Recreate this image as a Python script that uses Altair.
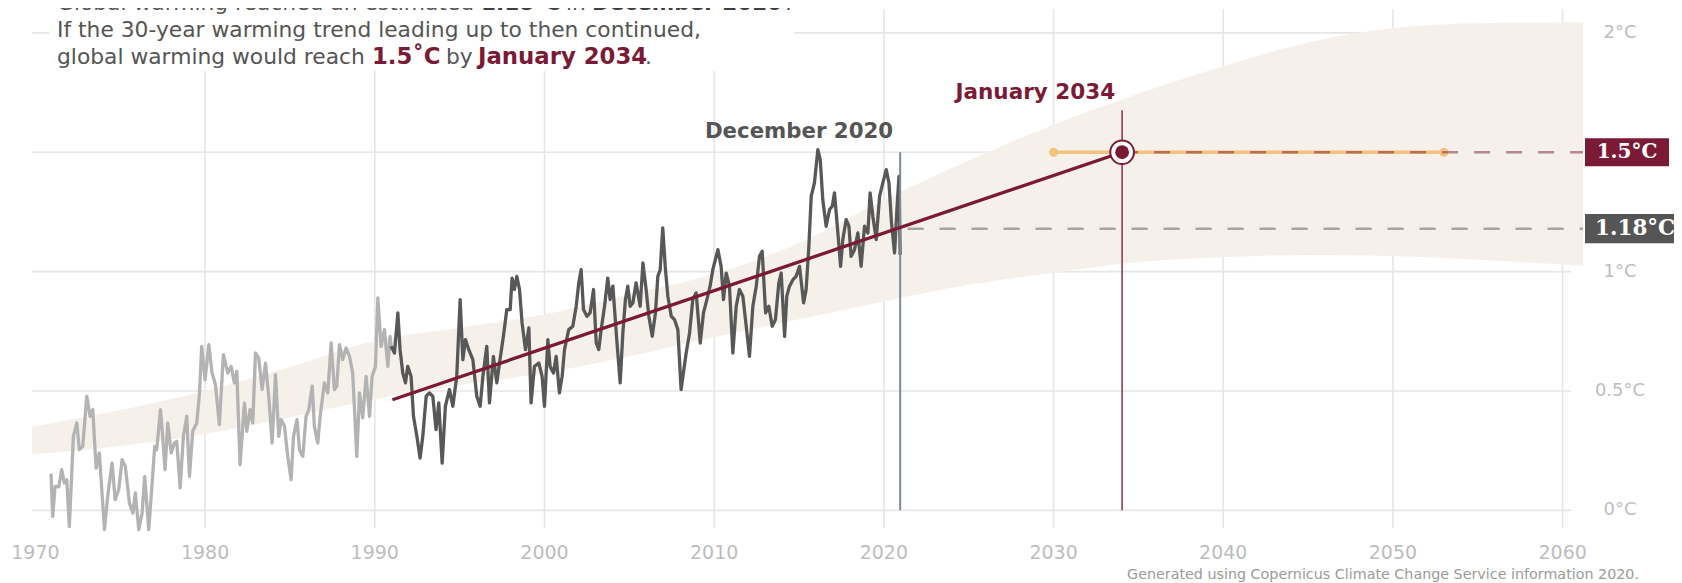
import altair as alt
import pandas as pd

# ---------------- data ----------------
light_year = [1970.92, 1971.02, 1971.16, 1971.38, 1971.55, 1971.71, 1971.85, 1972.00, 1972.24, 1972.44,
              1972.59, 1972.79, 1973.03, 1973.22, 1973.38, 1973.58, 1973.77, 1974.07, 1974.26, 1974.52,
              1974.70, 1974.91, 1975.11, 1975.30, 1975.54, 1975.74, 1975.89, 1976.09, 1976.29, 1976.44,
              1976.68, 1976.88, 1977.03, 1977.15, 1977.37, 1977.50, 1977.64, 1977.80, 1978.00, 1978.19,
              1978.33, 1978.53, 1978.72, 1978.92, 1979.08, 1979.27, 1979.51, 1979.67, 1979.80, 1980.00,
              1980.22, 1980.41, 1980.61, 1980.84, 1981.08, 1981.34, 1981.53, 1981.73, 1981.87, 1982.06,
              1982.32, 1982.46, 1982.65, 1982.81, 1982.97, 1983.16, 1983.36, 1983.56, 1983.75, 1983.95,
              1984.15, 1984.34, 1984.48, 1984.68, 1984.87, 1985.07, 1985.21, 1985.42, 1985.56, 1985.76,
              1985.95, 1986.11, 1986.31, 1986.44, 1986.64, 1986.78, 1987.03, 1987.23, 1987.43, 1987.62,
              1987.76, 1987.92, 1988.11, 1988.31, 1988.51, 1988.70, 1988.94, 1989.10, 1989.29, 1989.49,
              1989.69, 1989.84, 1990.04, 1990.18, 1990.37, 1990.57, 1990.77, 1990.90, 1990.96]
light_temp = [0.154, -0.025, 0.10, 0.098, 0.17, 0.115, 0.128, -0.067, 0.31, 0.366,
              0.254, 0.268, 0.478, 0.394, 0.422, 0.177, 0.24, -0.081, 0.059, 0.198,
              0.045, 0.087, 0.212, 0.184, 0.031, -0.011, 0.073, -0.081, -0.011, 0.142,
              -0.081, 0.115, 0.268, 0.254, 0.422, 0.31, 0.17, 0.366, 0.24, 0.282,
              0.289, 0.094, 0.31, 0.394, 0.142, 0.331, 0.366, 0.492, 0.687, 0.547,
              0.694, 0.575, 0.527, 0.359, 0.652, 0.575, 0.603, 0.534, 0.582, 0.191,
              0.45, 0.331, 0.422, 0.366, 0.659, 0.638, 0.506, 0.617, 0.478, 0.282,
              0.568, 0.31, 0.38, 0.352, 0.226, 0.128, 0.31, 0.38, 0.254, 0.226,
              0.394, 0.422, 0.52, 0.352, 0.282, 0.394, 0.534, 0.492, 0.701, 0.506,
              0.52, 0.694, 0.631, 0.68, 0.645, 0.575, 0.226, 0.492, 0.387, 0.561,
              0.394, 0.561, 0.603, 0.89, 0.687, 0.757, 0.603, 0.729, 0.687]

dark_year = [1990.96, 1991.16, 1991.36, 1991.49, 1991.65, 1991.81, 1991.94, 1992.14, 1992.28, 1992.48,
             1992.67, 1992.83, 1993.03, 1993.22, 1993.42, 1993.61, 1993.77, 1993.97, 1994.16, 1994.40,
             1994.60, 1994.83, 1995.03, 1995.19, 1995.34, 1995.54, 1995.78, 1996.01, 1996.21, 1996.37,
             1996.60, 1996.76, 1996.99, 1997.19, 1997.35, 1997.58, 1997.78, 1997.98, 1998.09, 1998.23,
             1998.37, 1998.53, 1998.68, 1998.88, 1999.08, 1999.21, 1999.41, 1999.67, 1999.86, 2000.00,
             2000.20, 2000.33, 2000.53, 2000.69, 2000.88, 2001.04, 2001.18, 2001.43, 2001.67, 2001.87,
             2002.02, 2002.16, 2002.30, 2002.50, 2002.69, 2002.89, 2003.05, 2003.20, 2003.34, 2003.54,
             2003.73, 2003.87, 2004.03, 2004.26, 2004.46, 2004.62, 2004.77, 2004.91, 2005.05, 2005.21,
             2005.40, 2005.64, 2005.80, 2005.99, 2006.15, 2006.35, 2006.54, 2006.68, 2006.82, 2006.97,
             2007.13, 2007.27, 2007.47, 2007.66, 2007.86, 2008.05, 2008.35, 2008.55, 2008.74, 2008.94,
             2009.18, 2009.37, 2009.57, 2009.76, 2009.92, 2010.22, 2010.41, 2010.55, 2010.71, 2010.90,
             2011.10, 2011.30, 2011.49, 2011.69, 2011.89, 2012.08, 2012.28, 2012.48, 2012.67, 2012.83,
             2013.03, 2013.22, 2013.42, 2013.61, 2013.81, 2013.95, 2014.15, 2014.28, 2014.44, 2014.64,
             2014.83, 2015.03, 2015.27, 2015.42, 2015.58, 2015.72, 2015.91, 2016.11, 2016.25, 2016.40,
             2016.60, 2016.80, 2016.96, 2017.09, 2017.29, 2017.45, 2017.58, 2017.78, 2017.94, 2018.07,
             2018.27, 2018.47, 2018.66, 2018.86, 2019.06, 2019.19, 2019.35, 2019.55, 2019.75, 2019.94,
             2020.14, 2020.30, 2020.45, 2020.63, 2020.77, 2020.89, 2020.96]
dark_temp = [0.687, 0.659, 0.827, 0.673, 0.575, 0.534, 0.603, 0.561, 0.394, 0.31,
             0.219, 0.31, 0.478, 0.492, 0.478, 0.338, 0.45, 0.198, 0.436, 0.506,
             0.436, 0.561, 0.883, 0.631, 0.715, 0.673, 0.631, 0.478, 0.436, 0.561,
             0.687, 0.45, 0.645, 0.534, 0.617, 0.729, 0.841, 0.841, 0.973, 0.925,
             0.98, 0.925, 0.785, 0.673, 0.764, 0.45, 0.603, 0.617, 0.561, 0.436,
             0.715, 0.603, 0.575, 0.645, 0.492, 0.561, 0.673, 0.757, 0.771, 0.855,
             0.953, 1.008, 0.841, 0.813, 0.827, 0.925, 0.701, 0.673, 0.757, 0.855,
             0.973, 0.883, 0.939, 0.715, 0.534, 0.743, 0.883, 0.939, 0.855, 0.869,
             0.953, 0.855, 1.036, 0.925, 0.813, 0.729, 0.827, 0.98, 1.008, 1.183,
             1.008, 0.897, 0.813, 0.799, 0.757, 0.506, 0.659, 0.743, 0.883, 0.911,
             0.701, 0.827, 0.883, 0.939, 1.008, 1.092, 1.022, 0.883, 0.994, 0.939,
             0.659, 0.855, 0.925, 0.897, 0.771, 0.645, 0.855, 0.939, 1.064, 1.085,
             0.827, 0.855, 0.771, 0.799, 0.953, 0.994, 0.729, 0.897, 0.939, 0.966,
             0.98, 1.022, 0.869, 0.925, 1.106, 1.316, 1.372, 1.511, 1.469, 1.302,
             1.19, 1.26, 1.274, 1.33, 1.162, 1.022, 1.134, 1.218, 1.19, 1.064,
             1.092, 1.162, 1.022, 1.19, 1.162, 1.33, 1.232, 1.134, 1.316, 1.372,
             1.427, 1.372, 1.204, 1.078, 1.26, 1.399, 1.07]

band_year = [1969.8, 1975, 1980, 1985, 1990, 1995, 2000, 2005, 2010, 2015,
             2020, 2025, 2030, 2035, 2040, 2045, 2050, 2055, 2061.2]
band_low = [0.235, 0.27, 0.32, 0.39, 0.465, 0.525, 0.575, 0.645, 0.725, 0.80,
            0.875, 0.945, 0.995, 1.04, 1.06, 1.07, 1.065, 1.05, 1.025]
band_high = [0.35, 0.42, 0.50, 0.60, 0.71, 0.765, 0.82, 0.905, 0.99, 1.12,
             1.30, 1.465, 1.615, 1.745, 1.86, 1.96, 2.02, 2.04, 2.045]

trend_year = [1991.04, 2034.04]
trend_temp = [0.463, 1.5]
range_year = [2030.0, 2053.0]
target_temp = 1.5
current_temp = 1.18
current_year = 2020.96
cross_year = 2034.04

x_ticks = [1970, 1980, 1990, 2000, 2010, 2020, 2030, 2040, 2050, 2060]
grid_x = [1980, 1990, 2000, 2010, 2020, 2030, 2040, 2050, 2060]
grid_y = [0, 0.5, 1, 1.5, 2]
y_ticks = [0, 0.5, 1, 2]
y_tick_labels = ["0°C", "0.5°C", "1°C", "2°C"]

# ---------------- styling ----------------
RED = "#7b1a35"
GRAY_TXT = "#555555"
FONT = "DejaVu Sans"
X_DOM = [1969.8, 2061.2]
Y_DOM = [-0.074, 2.1]
xs = alt.Scale(domain=X_DOM, nice=False, zero=False)
ys = alt.Scale(domain=Y_DOM, nice=False, zero=False)


def X(f):
    return alt.X(f, type="quantitative", scale=xs, axis=None)


def Y(f):
    return alt.Y(f, type="quantitative", scale=ys, axis=None)


def X2(f):
    return alt.X2(f)


def Y2(f):
    return alt.Y2(f)


one = pd.DataFrame({"k": [0]})


def label(text, px, py, size, color, weight="normal", align="left",
          baseline="alphabetic", font=FONT):
    return alt.Chart(one).mark_text(
        text=text, fontSize=size, color=color, fontWeight=weight, align=align,
        baseline=baseline, font=font
    ).encode(x=alt.value(px), y=alt.value(py))


layers = []

# grid
vgrid = pd.DataFrame({"x": grid_x, "top": [Y_DOM[1]] * len(grid_x), "bot": [Y_DOM[0]] * len(grid_x)})
layers.append(alt.Chart(vgrid).mark_rule(color="#e6e6e6", strokeWidth=1.6).encode(
    x=X("x"), y=Y("top"), y2=Y2("bot")))
hgrid = pd.DataFrame({"y": grid_y, "x0": [X_DOM[0]] * len(grid_y), "x1": [2060.5] * len(grid_y)})
layers.append(alt.Chart(hgrid).mark_rule(color="#e6e6e6", strokeWidth=1.6).encode(
    y=Y("y"), x=X("x0"), x2=X2("x1")))

# white box behind the intro text
box = pd.DataFrame({"x0": [1970.8], "x1": [2014.7], "y0": [1.84], "y1": [2.3]})
layers.append(alt.Chart(box).mark_rect(color="white").encode(
    x=X("x0"), x2=X2("x1"), y=Y("y0"), y2=Y2("y1")))

# band
band = pd.DataFrame({"year": band_year, "low": band_low, "high": band_high})
layers.append(alt.Chart(band).mark_area(color="#f6f0ea", interpolate="monotone").encode(
    x=X("year"), y=Y("low"), y2=Y2("high")))

# series
light = pd.DataFrame({"year": light_year, "t": light_temp})
dark = pd.DataFrame({"year": dark_year, "t": dark_temp})
layers.append(alt.Chart(light).mark_line(color="#b3b3b3", strokeWidth=3.3, strokeJoin="round").encode(
    x=X("year"), y=Y("t")))
layers.append(alt.Chart(dark).mark_line(color="#585858", strokeWidth=3.3, strokeJoin="round").encode(
    x=X("year"), y=Y("t")))

# December 2020 vertical line
dec = pd.DataFrame({"x": [current_year], "y0": [0.0], "y1": [target_temp]})
layers.append(alt.Chart(dec).mark_rule(color="#7e8898", strokeWidth=2).encode(
    x=X("x"), y=Y("y0"), y2=Y2("y1")))

# 1.18 dashed line
d118 = pd.DataFrame({"x0": [2021.4], "x1": [X_DOM[1]], "y": [current_temp]})
layers.append(alt.Chart(d118).mark_rule(color="#555555", strokeOpacity=0.5, strokeWidth=2.5,
                                        strokeDash=[16, 16]).encode(
    x=X("x0"), x2=X2("x1"), y=Y("y")))

# trend line
trend = pd.DataFrame({"year": trend_year, "t": trend_temp})
layers.append(alt.Chart(trend).mark_line(color=RED, strokeWidth=3.3).encode(
    x=X("year"), y=Y("t")))

# January 2034 vertical line
jan = pd.DataFrame({"x": [cross_year], "y0": [0.0], "y1": [1.676]})
layers.append(alt.Chart(jan).mark_rule(color="#8a3050", strokeWidth=1.5).encode(
    x=X("x"), y=Y("y0"), y2=Y2("y1")))

# orange range
rng = pd.DataFrame({"x0": [range_year[0]], "x1": [range_year[1]], "y": [target_temp]})
layers.append(alt.Chart(rng).mark_rule(color="#f2c27f", strokeWidth=3.5).encode(
    x=X("x0"), x2=X2("x1"), y=Y("y")))
rng_pts = pd.DataFrame({"x": range_year, "y": [target_temp] * 2})
layers.append(alt.Chart(rng_pts).mark_circle(color="#f2c27f", opacity=1, size=81).encode(
    x=X("x"), y=Y("y")))

# 1.5 dashed line
d15 = pd.DataFrame({"x0": [cross_year], "x1": [X_DOM[1]], "y": [target_temp]})
layers.append(alt.Chart(d15).mark_rule(color=RED, strokeOpacity=0.5, strokeWidth=2.5,
                                       strokeDash=[16, 16]).encode(
    x=X("x0"), x2=X2("x1"), y=Y("y")))

# crossing marker
mk = pd.DataFrame({"x": [cross_year], "y": [target_temp]})
layers.append(alt.Chart(mk).mark_point(shape="circle", filled=True, fill="white", stroke=RED,
                                       strokeWidth=2, size=560, opacity=1).encode(
    x=X("x"), y=Y("y")))
layers.append(alt.Chart(mk).mark_point(shape="circle", filled=True, color=RED, size=190,
                                       opacity=1).encode(x=X("x"), y=Y("y")))

# annotations
ann = pd.DataFrame({"x": [current_year], "y": [1.585]})
layers.append(alt.Chart(ann).mark_text(text="December 2020", align="right", baseline="middle",
                                       dx=-7, fontSize=21.3, fontWeight="bold", color=GRAY_TXT,
                                       font=FONT).encode(x=X("x"), y=Y("y")))
ann2 = pd.DataFrame({"x": [cross_year], "y": [1.748]})
layers.append(alt.Chart(ann2).mark_text(text="January 2034", align="right", baseline="middle",
                                        dx=-7, fontSize=21.5, fontWeight="bold", color=RED,
                                        font=FONT).encode(x=X("x"), y=Y("y")))

# axis labels
xt = pd.DataFrame({"x": x_ticks, "label": [str(v) for v in x_ticks]})
layers.append(alt.Chart(xt).mark_text(baseline="middle", align="center", fontSize=19,
                                      color="#bdbdbd", font=FONT).encode(
    x=X("x"), y=alt.value(544), text="label:N"))
yt = pd.DataFrame({"y": y_ticks, "label": y_tick_labels})
layers.append(alt.Chart(yt).mark_text(baseline="middle", align="center", fontSize=18,
                                      color="#bdbdbd", font=FONT).encode(
    y=Y("y"), x=alt.value(1588), text="label:N"))

# badges
b15 = pd.DataFrame({"y": [target_temp], "lo": [target_temp - 0.059], "hi": [target_temp + 0.059],
                    "label": ["1.5°C"]})
layers.append(alt.Chart(b15).mark_rect(color=RED).encode(
    x=alt.value(1553), x2=alt.value(1637), y=Y("lo"), y2=Y2("hi")))
layers.append(alt.Chart(b15).mark_text(color="white", fontSize=20, fontWeight="bold",
                                       font="DejaVu Serif", baseline="middle", align="center").encode(
    x=alt.value(1595), y=Y("y"), text="label:N"))
b118 = pd.DataFrame({"y": [current_temp], "lo": [current_temp - 0.061], "hi": [current_temp + 0.061],
                     "label": ["1.18°C"]})
layers.append(alt.Chart(b118).mark_rect(color="#555555").encode(
    x=alt.value(1553), x2=alt.value(1700), y=Y("lo"), y2=Y2("hi")))
layers.append(alt.Chart(b118).mark_text(color="white", fontSize=21.5, fontWeight="bold",
                                        font="DejaVu Serif", baseline="middle", align="left").encode(
    x=alt.value(1563), y=Y("y"), text="label:N"))

# intro text
TS = 21.8
TB = 22.8
TB1 = 21.5
BOLD_DARK = "#3f3f3f"
layers += [
    label("Global warming reached an estimated", 25, 1, TS, GRAY_TXT),
    label("1.18°C", 449, 1, TB1, BOLD_DARK, weight="bold"),
    label("in", 534, 1, TS, GRAY_TXT),
    label("December 2020", 560, 1, TB1, BOLD_DARK, weight="bold"),
    label(".", 753, 1, TS, GRAY_TXT),
    label("If the 30-year warming trend leading up to then continued,", 25, 28, TS, GRAY_TXT),
    label("global warming would reach", 25, 55, TS, GRAY_TXT),
    label("1.5˚C", 340, 55, TB, RED, weight="bold"),
    label("by", 414, 55, TS, GRAY_TXT),
    label("January 2034", 446, 55, TB, RED, weight="bold"),
    label(".", 613, 55, TS, GRAY_TXT),
    label("Generated using Copernicus Climate Change Service information 2020.", 1607, 566, 14.3,
          "#9a9a9a", align="right", baseline="middle"),
]

chart = alt.layer(*layers).properties(
    width=1551, height=519,
    autosize=alt.AutoSizeParams(type="none"),
    padding={"left": 24, "top": 1, "right": 91, "bottom": 55},
).configure(font=FONT, view=alt.ViewConfig(stroke=None))

chart.save("out.html", embed_options={"renderer": "svg", "actions": False})
